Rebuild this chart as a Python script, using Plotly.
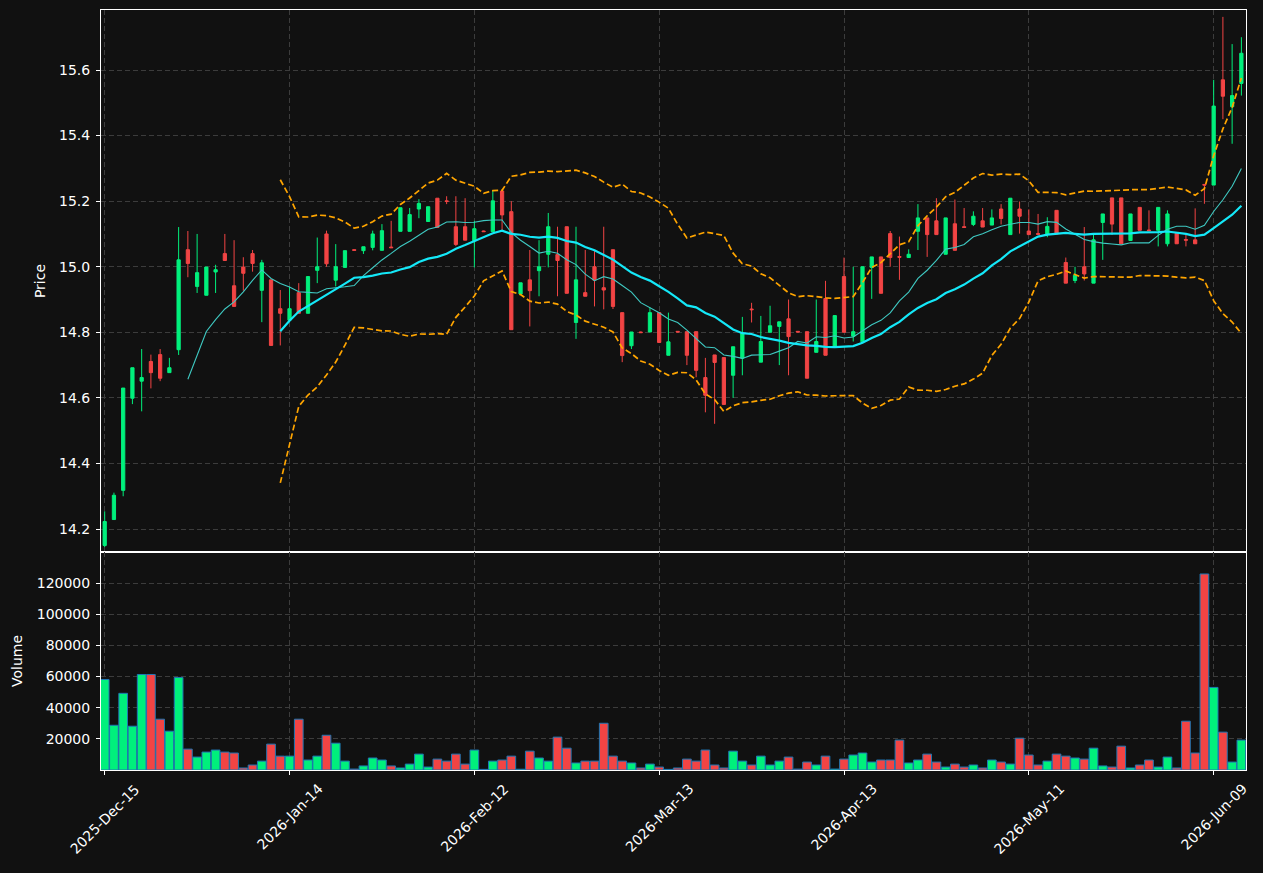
import pandas as pd
import numpy as np
import plotly.graph_objects as go
from plotly.subplots import make_subplots

# ---- trading calendar (NYSE-style business days) ----
holidays = ["2025-12-25", "2026-01-01", "2026-01-19", "2026-02-16",
            "2026-04-03", "2026-05-25"]
dates = pd.bdate_range("2025-12-15", periods=124, freq="C", holidays=holidays)
date_labels = [d.strftime("%Y-%m-%d") for d in dates]

# ---- OHLC values ----
opens = [14.150, 14.229, 14.318, 14.599, 14.651, 14.711, 14.732, 14.677, 14.747, 15.052,
         14.940, 14.913, 14.984, 15.040, 14.942, 14.999, 15.040, 14.928, 14.960, 14.872,
         14.837, 14.921, 14.858, 14.989, 15.100, 14.959, 14.998, 15.052, 15.049, 15.059,
         15.050, 15.060, 15.108, 15.108, 15.176, 15.138, 15.209, 15.201, 15.122, 15.122,
         15.079, 15.109, 15.107, 15.231, 15.168, 14.917, 14.960, 14.988, 15.038, 15.037,
         15.122, 14.830, 14.921, 15.000, 14.936, 15.052, 14.860, 14.759, 14.801, 14.801,
         14.860, 14.730, 14.803, 14.802, 14.802, 14.662, 14.731, 14.723, 14.669, 14.721,
         14.871, 14.709, 14.800, 14.818, 14.841, 14.803, 14.802, 14.739, 14.903, 14.758,
         14.970, 14.788, 14.771, 14.998, 15.030, 15.101, 15.031, 15.028, 15.108, 15.149,
         15.140, 15.038, 15.131, 15.122, 15.129, 15.140, 15.127, 15.176, 15.098, 15.176,
         15.109, 15.101, 15.100, 15.172, 15.013, 14.958, 15.000, 14.950, 15.135, 15.210,
         15.210, 15.080, 15.181, 15.112, 15.111, 15.070, 15.102, 15.083, 15.082, 15.251,
         15.249, 15.570, 15.488, 15.559]
highs = [14.254, 14.311, 14.630, 14.692, 14.749, 14.732, 14.749, 14.722, 15.121, 15.109,
         15.100, 14.999, 15.006, 15.100, 15.081, 15.029, 15.051, 15.021, 14.960, 14.929,
         14.939, 14.950, 14.970, 15.089, 15.110, 15.069, 15.049, 15.053, 15.061, 15.110,
         15.130, 15.140, 15.180, 15.179, 15.206, 15.183, 15.209, 15.215, 15.215, 15.209,
         15.140, 15.110, 15.231, 15.231, 15.200, 14.951, 15.051, 15.081, 15.164, 15.122,
         15.122, 15.122, 15.051, 15.049, 15.122, 15.052, 14.860, 14.801, 14.802, 14.876,
         14.860, 14.860, 14.804, 14.802, 14.802, 14.722, 14.731, 14.723, 14.756, 14.847,
         14.890, 14.850, 14.881, 14.832, 14.900, 14.804, 14.802, 14.900, 14.957, 14.851,
         15.028, 15.000, 15.000, 15.030, 15.030, 15.109, 15.092, 15.053, 15.191, 15.149,
         15.209, 15.149, 15.205, 15.179, 15.169, 15.179, 15.175, 15.191, 15.209, 15.199,
         15.175, 15.161, 15.151, 15.172, 15.028, 15.000, 15.121, 15.099, 15.161, 15.210,
         15.210, 15.161, 15.181, 15.172, 15.181, 15.172, 15.102, 15.099, 15.178, 15.251,
         15.570, 15.762, 15.679, 15.700]
lows = [14.145, 14.229, 14.300, 14.581, 14.559, 14.629, 14.651, 14.677, 14.731, 14.968,
        14.920, 14.913, 14.920, 15.019, 14.879, 14.927, 14.985, 14.831, 14.760, 14.760,
        14.836, 14.858, 14.858, 14.950, 15.000, 14.940, 14.998, 15.049, 15.039, 15.050,
        15.050, 15.058, 15.108, 15.108, 15.148, 15.138, 15.120, 15.191, 15.063, 15.081,
        14.998, 15.106, 15.107, 15.110, 14.808, 14.917, 14.818, 14.910, 14.998, 14.910,
        14.919, 14.780, 14.910, 14.879, 14.870, 14.871, 14.709, 14.749, 14.798, 14.801,
        14.769, 14.730, 14.800, 14.700, 14.663, 14.556, 14.521, 14.580, 14.600, 14.669,
        14.830, 14.709, 14.800, 14.700, 14.669, 14.800, 14.660, 14.739, 14.730, 14.758,
        14.800, 14.772, 14.771, 14.902, 14.919, 15.000, 14.960, 15.028, 15.051, 15.030,
        15.098, 15.038, 15.050, 15.120, 15.124, 15.121, 15.127, 15.129, 15.098, 15.101,
        15.098, 15.099, 15.090, 15.100, 14.950, 14.950, 14.958, 14.950, 15.021, 15.097,
        15.070, 15.080, 15.111, 15.110, 15.062, 15.062, 15.070, 15.062, 15.070, 15.192,
        15.249, 15.450, 15.375, 15.522]
closes = [14.223, 14.303, 14.630, 14.692, 14.662, 14.677, 14.660, 14.692, 15.021, 15.010,
          14.982, 14.999, 14.991, 15.019, 14.879, 14.980, 15.010, 15.012, 14.760, 14.858,
          14.872, 14.858, 14.970, 15.000, 15.009, 15.000, 15.049, 15.050, 15.061, 15.100,
          15.110, 15.058, 15.180, 15.159, 15.193, 15.183, 15.120, 15.199, 15.068, 15.081,
          15.116, 15.107, 15.201, 15.158, 14.808, 14.951, 14.927, 15.000, 15.122, 15.019,
          14.919, 14.960, 14.910, 14.959, 14.929, 14.879, 14.729, 14.801, 14.799, 14.860,
          14.769, 14.771, 14.801, 14.730, 14.684, 14.608, 14.708, 14.580, 14.756, 14.797,
          14.869, 14.772, 14.820, 14.832, 14.787, 14.801, 14.660, 14.772, 14.730, 14.851,
          14.800, 14.802, 15.000, 15.030, 14.919, 15.028, 15.029, 15.038, 15.149, 15.098,
          15.098, 15.149, 15.050, 15.120, 15.154, 15.121, 15.149, 15.147, 15.209, 15.154,
          15.098, 15.099, 15.123, 15.100, 14.950, 14.974, 14.978, 15.082, 15.161, 15.130,
          15.070, 15.161, 15.111, 15.110, 15.181, 15.161, 15.070, 15.081, 15.070, 15.249,
          15.490, 15.520, 15.522, 15.651]
volumes = [58100, 28700, 49200, 28100, 61300, 61300, 32600, 24900, 59400, 13400,
           8300, 11500, 12800, 11500, 10900, 1300, 3200, 5700, 16600, 8900,
           8900, 32600, 6400, 8900, 22300, 17200, 5700, 600, 2600, 7700,
           6400, 2600, 1300, 3800, 10200, 1900, 7000, 5700, 10200, 3800,
           12800, 400, 5700, 6400, 8900, 500, 12100, 7700, 5700, 21100,
           14000, 4500, 5700, 5700, 30000, 8900, 5700, 4500, 1300, 3800,
           1900, 400, 1300, 7000, 5700, 12800, 3200, 1300, 12100, 5700,
           3200, 8900, 3200, 5700, 8300, 600, 5100, 3200, 8900, 600,
           7000, 9600, 10900, 5100, 6400, 6400, 19200, 4500, 6400, 10200,
           5100, 1900, 3800, 1900, 3200, 1300, 6400, 5100, 3800, 20400,
           9600, 3200, 5700, 10200, 8900, 7700, 7000, 14000, 2600, 1900,
           15300, 1300, 3200, 6400, 1900, 8300, 1300, 31300, 10900, 125800,
           53000, 24300, 5100, 19200]

tick_idx = [0, 20, 40, 60, 80, 100, 120]
price_ticks = [14.2, 14.4, 14.6, 14.8, 15.0, 15.2, 15.4, 15.6]
volume_ticks = [20000, 40000, 60000, 80000, 100000, 120000]

# ---- derived indicators ----
close_s = pd.Series(closes)
ma10 = close_s.rolling(10).mean()
ma20 = close_s.rolling(20).mean()
sd20 = close_s.rolling(20).std(ddof=0)
bb_up = ma20 + 2 * sd20
bb_dn = ma20 - 2 * sd20

UP = "#00f07c"
DOWN = "#f24444"
vol_colors = [UP if c >= o else DOWN for o, c in zip(opens, closes)]

fig = make_subplots(rows=2, cols=1, shared_xaxes=True, vertical_spacing=0,
                    row_heights=[542, 218])

fig.add_trace(go.Candlestick(
    x=date_labels, open=opens, high=highs, low=lows, close=closes,
    increasing=dict(line=dict(color=UP, width=1), fillcolor=UP),
    decreasing=dict(line=dict(color=DOWN, width=1), fillcolor=DOWN),
    whiskerwidth=0, showlegend=False, name="OHLC"), row=1, col=1)

fig.add_trace(go.Scatter(x=date_labels, y=ma10, mode="lines",
                         line=dict(color="#3fc9c2", width=1.1),
                         showlegend=False, name="MA10"), row=1, col=1)
fig.add_trace(go.Scatter(x=date_labels, y=ma20, mode="lines",
                         line=dict(color="#14e8f8", width=2.2),
                         showlegend=False, name="MA20"), row=1, col=1)
fig.add_trace(go.Scatter(x=date_labels, y=bb_up, mode="lines",
                         line=dict(color="orange", width=1.7, dash="6px,3px"),
                         showlegend=False, name="BB upper"), row=1, col=1)
fig.add_trace(go.Scatter(x=date_labels, y=bb_dn, mode="lines",
                         line=dict(color="orange", width=1.7, dash="6px,3px"),
                         showlegend=False, name="BB lower"), row=1, col=1)

fig.add_trace(go.Bar(x=date_labels, y=volumes, marker=dict(
    color=vol_colors, line=dict(color="#1f77b4", width=1)),
    showlegend=False, name="Volume"), row=2, col=1)

BG = "#111111"
GRID = "#3c3c3c"
FONT = dict(family="DejaVu Sans", size=14, color="white")

fig.update_layout(
    width=1263, height=873,
    margin=dict(l=101, r=17, t=10, b=103),
    paper_bgcolor=BG, plot_bgcolor=BG,
    font=FONT, bargap=0.06, boxgap=0.5,
    xaxis_rangeslider_visible=False,
)

xr = [-0.4, 123.5]
common_axis = dict(showline=True, linecolor="white", linewidth=1, mirror=True,
                   tickcolor="white", ticklen=4,
                   showgrid=True, gridcolor=GRID, griddash="5px,3px", gridwidth=1,
                   zeroline=False, tickfont=FONT)

tickvals_x = [date_labels[i] for i in tick_idx]
ticktext_x = [dates[i].strftime("%Y-%b-%d") for i in tick_idx]

fig.update_xaxes(type="category", range=xr, tickvals=tickvals_x, **common_axis)
fig.update_xaxes(ticks="", showticklabels=False, row=1, col=1)
fig.update_xaxes(ticks="outside", showticklabels=False, row=2, col=1)

# rotated date labels, centred under their ticks
for tv, tt in zip(tickvals_x, ticktext_x):
    fig.add_annotation(x=tv, xref="x2", y=0, yref="paper", text=tt,
                       textangle=-45, showarrow=False, xanchor="center",
                       yanchor="top", yshift=-8, font=FONT)

fig.update_yaxes(range=[14.130, 15.783], tickvals=price_ticks, tickformat=".1f",
                 ticks="outside", ticklabelstandoff=3,
                 title=dict(text="Price", font=FONT, standoff=10),
                 row=1, col=1, **common_axis)
fig.update_yaxes(range=[0, 139900], tickvals=volume_ticks, tickformat="d",
                 ticks="outside", ticklabelstandoff=3,
                 title=dict(text="Volume", font=FONT, standoff=10),
                 row=2, col=1, **common_axis)

fig.write_html("out.html")
